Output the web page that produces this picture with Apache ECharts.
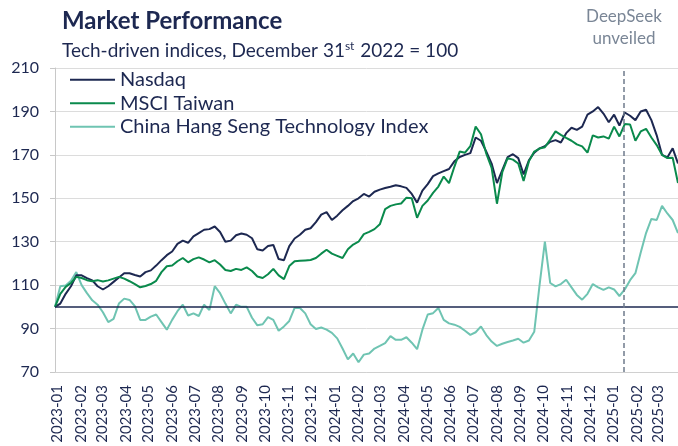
<!DOCTYPE html>
<html><head><meta charset="utf-8">
<script src="https://cdn.jsdelivr.net/npm/echarts@6/dist/echarts.min.js"></script>
<style>html,body{margin:0;padding:0;background:#fff}#c{width:678px;height:446px}</style>
</head><body><div id="c"></div>
<script>
const firstObs = [2022, 11, 29];   // year, monthIndex, day of first observation
const stepDays = 7;
const seriesNames = ['Nasdaq', 'MSCI Taiwan', 'China Hang Seng Technology Index'];
const nasdaq = [
100,101.5,106,109.5,114.5,114.5,113.2,112.2,109.5,108,
109.5,111.5,113.5,115.5,115.5,114.7,114,116,116.8,119,
121.5,123.8,125.5,129,130.5,129.5,132.5,134,135.5,135.8,
137,134.5,130,130.5,133,133.8,133.2,131.6,126.5,126,
128,128.5,122,121.5,128,131.5,133.2,135.5,136.2,139,
142.5,143.6,140,142,144.5,146.5,148.7,150,152,150.8,
153,154,154.7,155.3,156,155.5,154.8,152,148,153.5,
156.5,160.2,161.5,162.5,163.5,167,169,170,170.8,178,
176.5,171.5,166,157,163,169,170.3,168.5,161,167.5,
171,173,174,176,176.8,175.7,180,182.5,181.5,183,
188.5,190,192,189,185,188.5,183.5,189.5,188,186,
190,190.8,186,179,170,168.8,173,166];
const msciTaiwan = [
100,106,109.2,111,113.8,113.3,112.3,111.8,112.3,111.7,
112.2,113,113.8,113,111.8,110.5,109,109.6,110.5,112,
116,118.7,119,121,122.5,120.5,122,122.8,121.8,120.5,
121.5,119.5,117,116.5,117.5,117,118.2,116.5,114,113.3,
115,117.5,114.5,112.8,118.8,121,121.2,121.4,121.6,122.5,
124.5,126.3,124.5,123.5,122.5,126.5,128.7,130,133.5,134.5,
135.8,138,145,146.5,147.2,147.6,150.3,150,141,146.5,
149,152.5,155.4,160,157,164.5,171.5,171,174,183,
179.5,170.5,164,147.5,162,168.5,167.8,166,158,167,
171.5,172.9,173.5,177,180.8,179.2,177.8,176.5,174.8,173.9,
171,179,178,178.5,177.5,183,178.5,184.2,184,176.5,
180.8,182,178,174.5,170,168.5,168.7,157];
const hangSengTech = [
100,109.5,109.8,112,116,110,106.3,103,101,97.5,
93,94.5,101.5,103.8,103.2,100.3,94,94,95.5,96.5,
93,89.5,94,98,101,96,97,95.8,101,98.5,
109.5,106.3,101.5,97,101,100,100,95,91.5,92,
95.3,94,89,91,93.5,99.5,99.5,97,92,89.8,
90.5,89.5,88,85.5,80.8,75.8,78.5,74.5,78,78.5,
80.8,82,83.3,86.5,84.8,84.8,86,83.5,80.5,89.5,
96.5,97.1,99.5,94,92.4,91.8,90.8,89,87.1,88.3,
91,87,84,82,83,83.8,84.5,85.3,83.5,84.5,
88.5,110,130,111,109.4,110.5,112.5,109,105.5,103.3,
106,110.5,109,107.8,109,108,105,108,112.3,115.5,
125,134,140.5,140,146.5,143,140,134];
const yTicks = [70, 90, 110, 130, 150, 170, 190, 210];
const monthLabels = ['2023-01','2023-02','2023-03','2023-04','2023-05','2023-06','2023-07','2023-08','2023-09','2023-10','2023-11','2023-12',
  '2024-01','2024-02','2024-03','2024-04','2024-05','2024-06','2024-07','2024-08','2024-09','2024-10','2024-11','2024-12',
  '2025-01','2025-02','2025-03'];
const baseline = 100;
const deepSeekDate = [2025, 0, 15];
const eventLabel = 'DeepSeek\nunveiled';

// ---- build ----
const dates = nasdaq.map((_, k) => new Date(firstObs[0], firstObs[1], firstObs[2] + k * stepDays).getTime());
const pair = arr => arr.map((v, k) => [dates[k], v]);
const monthTs = monthLabels.map(s => { const p = s.split('-'); return new Date(+p[0], +p[1] - 1, 1).getTime(); });
const deepTs = new Date(deepSeekDate[0], deepSeekDate[1], deepSeekDate[2]).getTime();

const NAVY = '#1d2851';
const FONT = 'Lato, "Open Sans", sans-serif';
const colors = [NAVY, '#0a8a4c', '#6fc4b2'];

const chart = echarts.init(document.getElementById('c'), null, {renderer: 'canvas'});
chart.setOption({
  animation: false,
  backgroundColor: '#fff',
  textStyle: {fontFamily: FONT},
  title: [
    {text: 'Market Performance', left: 57, top: 4,
     textStyle: {fontFamily: FONT, fontSize: 24, fontWeight: 'bold', color: NAVY}},
    {text: 'Tech-driven indices, December 31{sup|st} 2022 = 100', left: 57, top: 35,
     textStyle: {fontFamily: FONT, fontSize: 19, fontWeight: 'normal', color: NAVY,
       rich: {sup: {fontFamily: FONT, fontSize: 12, color: NAVY, verticalAlign: 'top', padding: [0, 1, 9, 0]}}}}
  ],
  legend: {
    orient: 'vertical', left: 65, top: 64, itemWidth: 45, itemHeight: 2, itemGap: 2,
    icon: 'rect',
    data: seriesNames,
    textStyle: {fontFamily: FONT, fontSize: 20, color: NAVY, lineHeight: 21.5}
  },
  grid: {left: 55, right: 0, top: 68, bottom: 74, containLabel: false},
  xAxis: {
    type: 'value',
    min: dates[0], max: dates[dates.length - 1],
    axisLine: {show: true, lineStyle: {color: '#d0d0d0', width: 1}},
    axisTick: {show: false},
    splitLine: {show: false},
    axisLabel: {
      customValues: monthTs,
      rotate: 90, margin: 13, color: NAVY, fontSize: 15, fontFamily: FONT,
      formatter: v => { const d = new Date(v); return d.getFullYear() + '-' + String(d.getMonth() + 1).padStart(2, '0'); }
    }
  },
  yAxis: {
    type: 'value', min: yTicks[0], max: yTicks[yTicks.length - 1],
    axisLine: {show: true, lineStyle: {color: '#c8c8c8'}},
    axisTick: {show: true, customValues: yTicks, length: 5, lineStyle: {color: '#c8c8c8'}},
    axisLabel: {customValues: yTicks, color: NAVY, fontSize: 16, fontFamily: FONT, margin: 16},
    splitLine: {show: true, lineStyle: {color: '#dcdcdc', width: 1}}
  },
  series: [
    {name: seriesNames[0], type: 'line', data: pair(nasdaq), showSymbol: false, z: 3,
     lineStyle: {color: colors[0], width: 2}, itemStyle: {color: colors[0]},
     markLine: {silent: true, symbol: 'none', label: {show: false},
       lineStyle: {color: NAVY, width: 1.5, type: 'solid'}, data: [{yAxis: baseline}]}},
    {name: seriesNames[1], type: 'line', data: pair(msciTaiwan), showSymbol: false, z: 4,
     lineStyle: {color: colors[1], width: 2}, itemStyle: {color: colors[1]}},
    {name: seriesNames[2], type: 'line', data: pair(hangSengTech), showSymbol: false, z: 2,
     lineStyle: {color: colors[2], width: 2}, itemStyle: {color: colors[2]},
     markLine: {silent: true, symbol: 'none',
       lineStyle: {color: '#6f7b8c', width: 1.5, type: [5, 3]},
       label: {show: true, position: 'end', distance: 18, formatter: eventLabel,
         color: '#7a8696', fontSize: 17, fontFamily: FONT, lineHeight: 22, align: 'center'},
       data: [{xAxis: deepTs}]}}
  ]
});
</script></body></html>
